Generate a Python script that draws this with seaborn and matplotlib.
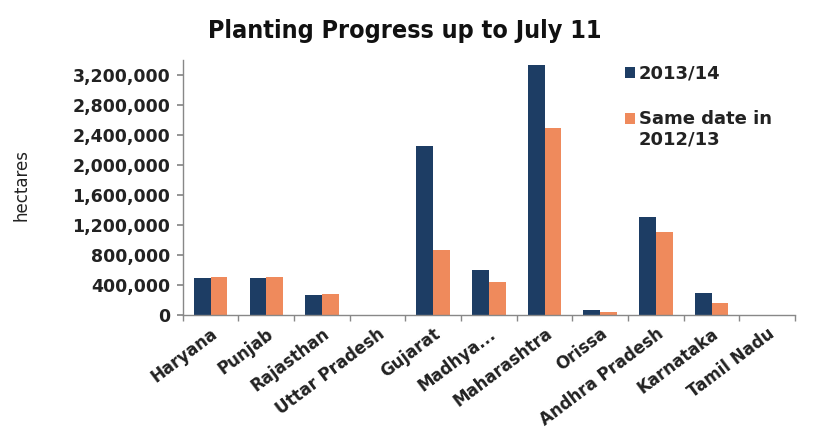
import matplotlib
matplotlib.use("Agg")
import matplotlib.pyplot as plt
import matplotlib.ticker as mticker
import numpy as np
import pandas as pd
import seaborn as sns

states = ["Haryana", "Punjab", "Rajasthan", "Uttar Pradesh", "Gujarat", "Madhya...",
          "Maharashtra", "Orissa", "Andhra Pradesh", "Karnataka", "Tamil Nadu"]
season_2013_14 = [497000, 500000, 267000, 5000, 2257000, 600000,
                  3333000, 67000, 1311000, 289000, 0]
season_2012_13 = [510000, 505000, 276000, 3000, 867000, 444000,
                  2489000, 44000, 1111000, 156000, 0]
series_names = ["2013/14", "Same date in\n2012/13"]
y_ticks = [0, 400000, 800000, 1200000, 1600000, 2000000, 2400000, 2800000, 3200000]

df = pd.DataFrame({
    "state": states * 2,
    "hectares": season_2013_14 + season_2012_13,
    "season": [series_names[0]] * len(states) + [series_names[1]] * len(states),
})

sns.set_theme(style="white")
plt.rcParams["font.family"] = ["DejaVu Sans"]

fig = plt.figure(figsize=(8.23, 4.36), dpi=100)
ax = fig.add_axes([0.222, 0.2775, 0.744, 0.585])

palette = {series_names[0]: "#1d3d64", series_names[1]: "#ef8a5c"}
sns.barplot(data=df, x="state", y="hectares", hue="season", order=states,
            hue_order=series_names, palette=palette, width=0.6, saturation=1,
            linewidth=0, ax=ax, legend=True)

ax.set_ylim(0, 3400000)
ax.set_xlim(-0.5, len(states) - 0.5)
ax.set_yticks(y_ticks)
ax.yaxis.set_major_formatter(mticker.FuncFormatter(lambda v, p: f"{int(v):,}"))
ax.tick_params(axis="y", length=4, color="#888888", left=True,
               direction="out", pad=5)
for lbl in ax.get_yticklabels():
    lbl.set_fontsize(12.5)
    lbl.set_fontweight("bold")
    lbl.set_color("#222222")

# state names under each group, with divider ticks between the groups
ax.set_xticks(np.arange(len(states)))
ax.set_xticklabels(states, rotation=37, ha="right", rotation_mode="anchor",
                   fontsize=12, fontweight="bold", color="#222222")
ax.tick_params(axis="x", which="major", length=0, pad=7)
ax.set_xticks(np.arange(len(states) + 1) - 0.5, minor=True)
ax.tick_params(axis="x", which="minor", length=4, color="#888888", bottom=True,
               direction="out")

for side in ["top", "right"]:
    ax.spines[side].set_visible(False)
for side in ["left", "bottom"]:
    ax.spines[side].set_color("#888888")
    ax.spines[side].set_linewidth(1.0)

ax.set_xlabel("")
ax.set_ylabel("")
fig.text(0.026, 0.575, "hectares", rotation=90, ha="center", va="center",
         fontsize=12, color="#222222")

fig.text(0.492, 0.93, "Planting Progress up to July 11", ha="center", va="center",
         fontsize=18, fontweight="bold", family="DejaVu Sans",
         fontstretch="condensed", color="#111111")

leg = ax.legend(loc="upper left", bbox_to_anchor=(0.748, 0.872),
                bbox_transform=fig.transFigure, frameon=False, borderpad=0,
                handlelength=0.55, handleheight=0.55, handletextpad=0.25,
                labelspacing=1.5, prop={"weight": "bold", "size": 13})
for t in leg.get_texts():
    t.set_color("#222222")
# keep the second swatch level with the first line of its two-line label
swatch = leg.legend_handles[1]
swatch.set_y(swatch.get_y() + 8)

fig.savefig("out.png", dpi=100)
